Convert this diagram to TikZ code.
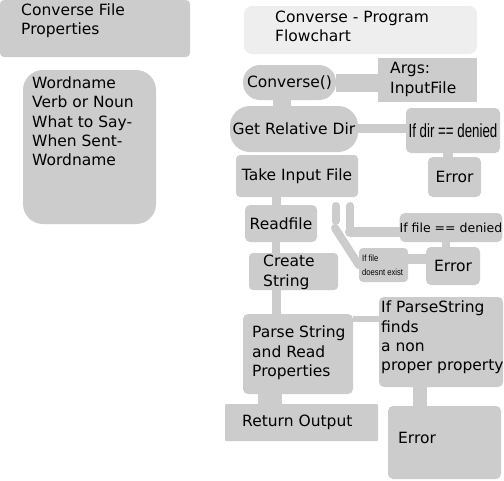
\documentclass[tikz,border=0pt]{standalone}
\usepackage{fontspec}
\usepackage{graphicx}
\setmainfont{DejaVu Sans}
\newfontfamily\narrowfont{Liberation Sans}
\usetikzlibrary{backgrounds}
\definecolor{boxgray}{HTML}{CCCCCC}
\definecolor{titlegray}{HTML}{EEEEEE}
\definecolor{conngray}{HTML}{CCCCCC}
\begin{document}
\begin{tikzpicture}[x=1pt,y=-1pt,
  box/.style={fill=boxgray, draw=none, inner sep=0pt, rounded corners=4pt,
    font=\fontsize{15.5}{19.3}\selectfont, text=black},
  txt/.style={inner sep=0pt, anchor=west, align=left,
    font=\fontsize{15.5}{19.3}\selectfont, text=black},
  conn/.style={draw=conngray, line cap=butt},
  rconn/.style={draw=conngray, line cap=round}]
\useasboundingbox (0,0) rectangle (504,480);

% boxes
\node[box, minimum width=190pt, minimum height=57pt] (props) at (95,28.5) {};
\node[box, minimum width=133pt, minimum height=154pt, rounded corners=20pt] (words) at (89.5,147) {};
\node[box, fill=titlegray, minimum width=233pt, minimum height=48pt, rounded corners=8pt] (title) at (360.5,30) {};
\node[box, minimum width=93pt, minimum height=35pt, rounded corners=17pt] (conv) at (289.5,82.5) {Converse()};
\node[box, minimum width=99pt, minimum height=44pt, rounded corners=0pt] (args) at (427.5,80) {};
\node[box, minimum width=128pt, minimum height=46pt, rounded corners=20pt] (getrel) at (294,129) {Get Relative Dir};
\node[box, minimum width=94pt, minimum height=45pt, rounded corners=5pt] (ifdir) at (453,130.5)
  {\scalebox{0.7}[1]{\fontsize{19}{22}\selectfont\narrowfont If dir == denied}};
\node[box, minimum width=53pt, minimum height=40pt, rounded corners=5pt] (err1) at (454.5,177) {Error};
\node[box, minimum width=122pt, minimum height=42pt] (take) at (297,176) {Take Input File};
\node[box, minimum width=72pt, minimum height=37pt, rounded corners=5pt] (readfile) at (281,223.5) {Readfile};
\node[box, minimum width=89pt, minimum height=37pt] (create) at (293.5,271.5) {};
\node[box, minimum width=110pt, minimum height=80pt, rounded corners=5pt] (parse) at (298,354) {};
\node[box, minimum width=124pt, minimum height=90pt, rounded corners=5pt] (ifparse) at (441,342) {};
\node[box, minimum width=113pt, minimum height=73pt, rounded corners=5pt] (err3) at (444.5,442.5) {};
\node[box, minimum width=153pt, minimum height=37pt, rounded corners=1pt] (ret) at (301.5,422.5) {};
\node[box, minimum width=102pt, minimum height=29pt, rounded corners=5pt] (iffile) at (451,227.5)
  {\fontsize{12.5}{15}\selectfont If file == denied};
\node[box, minimum width=54pt, minimum height=38pt, rounded corners=5pt] (err2) at (453,266) {Error};
\node[box, minimum width=49pt, minimum height=34pt, rounded corners=4pt] (ifnot) at (383.5,265) {};

% texts
\node[txt] (tprops) at (21,21) {Converse File\\Properties};
\node[txt] (twords) at (32,121.5) {Wordname\\Verb or Noun\\What to Say-\\When Sent-\\Wordname};
\node[txt] (ttitle) at (275,26.5) {Converse - Program\\Flowchart};
\node[txt] (targs) at (390,79.5) {Args:\\InputFile};
\node[txt] (tcreate) at (263,272.5) {Create\\String};
\node[txt] (tparse) at (252,353) {Parse String\\and Read\\Properties};
\node[txt] (tifparse) at (381,337.5) {If ParseString\\finds\\a non\\proper property};
\node[txt] (terr3) at (398,437.5) {Error};
\node[txt] (tret) at (242,422.5) {Return Output};
\node[txt, font=\fontsize{9}{14}\selectfont\narrowfont] (tifnot) at (362,265)
  {\scalebox{0.85}[1]{If file}\\\scalebox{0.85}[1]{doesnt exist}};

% free-end coordinates of the loose bars
\coordinate (aTop) at (335.5,206);
\coordinate (aBot) at (335.5,221);
\coordinate (dTop) at (335,228);
\coordinate (bTop) at (350,206);
\coordinate (bBot) at (350,232);

\begin{scope}[on background layer]
\fill[white] (0,0) rectangle (504,480);
\draw[conn, line width=18pt] (conv.east) -- (conv.east -| args.west);
\draw[conn, line width=18pt] ([xshift=-7.5pt]conv.south) -- ([xshift=-7.5pt]conv.south |- getrel.north);
\draw[conn, line width=9pt] ([yshift=0.5pt]getrel.east) -- ([yshift=0.5pt]getrel.east -| ifdir.west);
\draw[conn, line width=10pt] ([xshift=-5pt]ifdir.south) -- ([xshift=-5pt]ifdir.south |- err1.north);
\draw[conn, line width=9pt] ([xshift=-20.5pt]take.south) -- ([xshift=-20.5pt]take.south |- readfile.north);
\draw[conn, line width=8pt] ([xshift=-5pt]readfile.south) -- ([xshift=-5pt]readfile.south |- create.north);
\draw[conn, line width=9pt] ([xshift=-17pt]create.south) -- ([xshift=-17pt]create.south |- parse.north);
\draw[conn, line width=6pt] ([yshift=-5pt]parse.north east) -- ([yshift=-5pt]parse.north east -| ifparse.west);
\draw[conn, line width=14pt] ([xshift=-21pt]ifparse.south) -- ([xshift=-21pt]ifparse.south |- err3.north);
\draw[conn, line width=24pt] ([xshift=-28pt]parse.south) -- ([xshift=-28pt]parse.south |- ret.north);
\draw[conn, line width=10pt] ([yshift=6pt]ifnot.east) -- ([yshift=6pt]ifnot.east -| err2.west);
\draw[conn, line width=8pt] ([xshift=-5pt]iffile.south) -- ([xshift=-5pt]iffile.south |- err2.north);
\draw[rconn, line width=8pt] (aTop) -- (aBot);
\draw[rconn, line width=8pt] (dTop) -- (ifnot.west);
\draw[rconn, line width=8pt] (bTop) -- (bBot);
\draw[rconn, line width=10pt] (bBot) -- (bBot -| iffile.west);
\end{scope}
\end{tikzpicture}
\end{document}
